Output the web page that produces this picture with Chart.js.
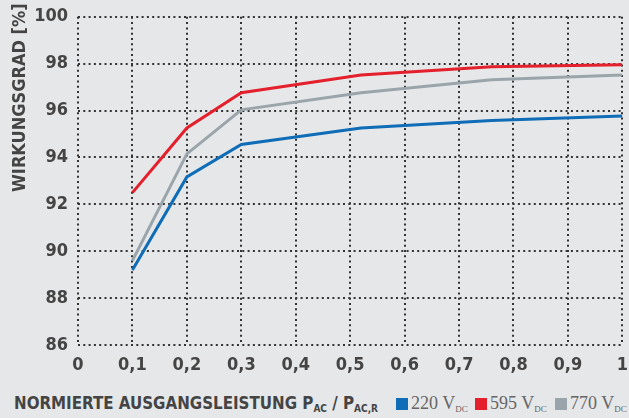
<!DOCTYPE html>
<html>
<head>
<meta charset="utf-8">
<script src="https://cdn.jsdelivr.net/npm/chart.js@4/dist/chart.umd.min.js"></script>
<style>
  html, body { margin: 0; padding: 0; background: #e6e7e9; }
  #wrap { position: relative; width: 629px; height: 418px; overflow: hidden; }
  #chart { position: absolute; left: 0; top: -4px; }
  .foot { position: absolute; top: 393px; white-space: nowrap; color: #444; }
  .xt { left: 14px; font-family: "Liberation Sans Narrow", "DejaVu Sans Condensed", sans-serif; font-weight: bold; font-size: 16.8px; }
  .xt sub { font-size: 10px; vertical-align: -3px; }
  .lg { font-family: "Liberation Serif", "DejaVu Serif", serif; font-size: 18px; color: #666; top: 393px; }
  .lg sub { font-size: 9px; vertical-align: -3px; }
  .sw { display: inline-block; width: 12px; height: 12px; margin-right: 3px; vertical-align: -1px; }
  #ytitle { position: absolute; left: 19px; top: 7px; transform-origin: 0 0; transform: translate(-9px, 185px) rotate(-90deg);
            font-family: "Liberation Sans Narrow", "DejaVu Sans Condensed", sans-serif; font-weight: bold; font-size: 18px; color: #444; white-space: nowrap; line-height: 18px; }
</style>
</head>
<body>
<div id="wrap">
  <canvas id="chart" width="638" height="386"></canvas>
  <div id="ytitle">WIRKUNGSGRAD [%]</div>
  <div class="foot xt">NORMIERTE AUSGANGSLEISTUNG P<sub>AC</sub> / P<sub>AC,R</sub></div>
  <div class="foot lg" style="left:396px"><span class="sw" style="background:#0f6cb6"></span>220 V<sub>DC</sub></div>
  <div class="foot lg" style="left:475px"><span class="sw" style="background:#e3202b"></span>595 V<sub>DC</sub></div>
  <div class="foot lg" style="left:555px"><span class="sw" style="background:#9aa5ab"></span>770 V<sub>DC</sub></div>
</div>
<script>
// load fraction P_AC / P_AC,R
const loads = [0.1, 0.2, 0.3, 0.52, 0.76, 1.0];

// efficiency in percent
const eff220 = [89.2, 93.17, 94.55, 95.26, 95.58, 95.77];
const eff595 = [92.5, 95.26, 96.76, 97.52, 97.87, 97.95];
const eff770 = [89.6, 94.15, 96.03, 96.76, 97.31, 97.52];

const seriesNames = ['220 VDC', '595 VDC', '770 VDC'];
const seriesColors = ['#0f6cb6', '#e3202b', '#9aa5ab'];

function toPoints(values) {
    return values.map((v, i) => ({ x: loads[i], y: v }));
}

const tickFont = { family: '"Liberation Sans Narrow", "DejaVu Sans Condensed", sans-serif', size: 18, weight: 'bold' };

// dotted grid, drawn at every tick of both scales
const dottedGrid = {
    id: 'dottedGrid',
    beforeDatasetsDraw(chart) {
        const { ctx, chartArea: a, scales: { x, y } } = chart;
        ctx.save();
        ctx.strokeStyle = '#333';
        ctx.lineWidth = 2;
        ctx.setLineDash([2, 3.3]);
        x.ticks.forEach((t, i) => {
            const px = Math.round(x.getPixelForTick(i));
            ctx.beginPath();
            ctx.moveTo(px, a.top);
            ctx.lineTo(px, a.bottom);
            ctx.stroke();
        });
        y.ticks.forEach((t, i) => {
            const py = Math.round(y.getPixelForTick(i));
            ctx.beginPath();
            ctx.moveTo(a.left, py);
            ctx.lineTo(a.right, py);
            ctx.stroke();
        });
        ctx.restore();
    }
};

new Chart(document.getElementById('chart'), {
    type: 'line',
    data: {
        datasets: [eff220, eff595, eff770].map((vals, i) => ({
            label: seriesNames[i],
            data: toPoints(vals),
            borderColor: seriesColors[i],
            borderWidth: 3,
            pointRadius: 0,
            tension: 0
        }))
    },
    options: {
        responsive: false,
        animation: false,
        layout: { padding: { top: 2, right: 0, left: 0, bottom: 0 } },
        plugins: { legend: { display: false }, tooltip: { enabled: false } },
        scales: {
            x: {
                type: 'linear',
                min: 0,
                max: 1,
                grid: { display: false, drawTicks: false },
                border: { display: false },
                ticks: {
                    stepSize: 0.1,
                    padding: 10,
                    color: '#444',
                    font: tickFont,
                    callback: v => v === 0 || v === 1 ? String(v) : v.toFixed(1).replace('.', ',')
                },
                afterFit: scale => { scale.height = 37; }
            },
            y: {
                min: 86,
                max: 100,
                grid: { display: false, drawTicks: false },
                border: { display: false },
                ticks: { stepSize: 2, padding: 10, color: '#444', font: tickFont },
                afterFit: scale => { scale.width = 78; }
            }
        }
    },
    plugins: [dottedGrid]
});
</script>
</body>
</html>
